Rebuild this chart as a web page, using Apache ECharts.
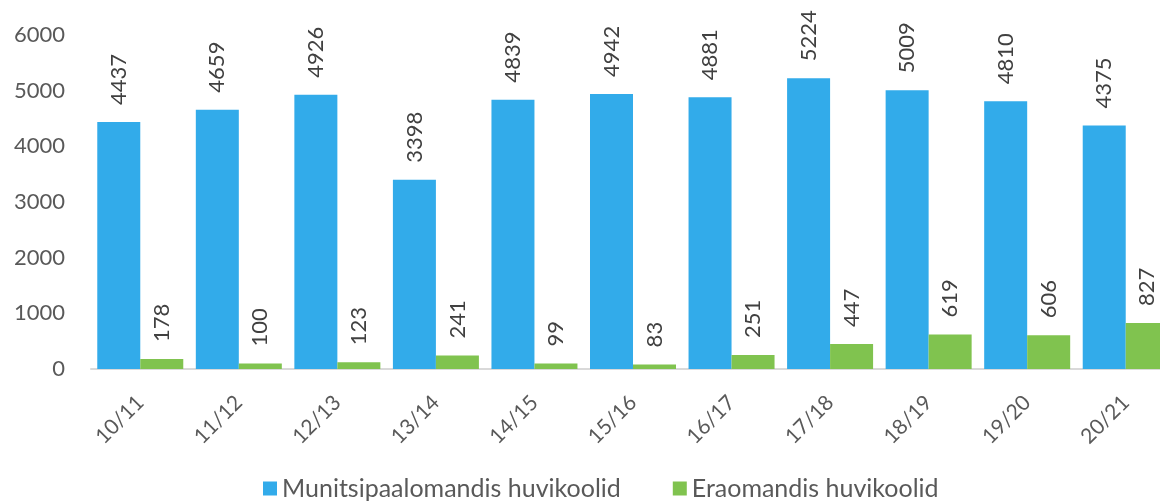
<!DOCTYPE html>
<html>
<head>
<meta charset="utf-8">
<script src="https://cdn.jsdelivr.net/npm/echarts@6/dist/echarts.min.js"></script>
<style>
  html, body { margin: 0; padding: 0; background: #fff; overflow: hidden; }
  /* the plot runs a little past the right edge of the window */
  #chart { width: 1175px; height: 504px; }
</style>
</head>
<body>
<div id="chart"></div>
<script>
// School years
const categories = ['10/11', '11/12', '12/13', '13/14', '14/15', '15/16', '16/17', '17/18', '18/19', '19/20', '20/21'];
// Municipal hobby schools
const municipal = [4437, 4659, 4926, 3398, 4839, 4942, 4881, 5224, 5009, 4810, 4375];
// Private hobby schools
const privateSchools = [178, 100, 123, 241, 99, 83, 251, 447, 619, 606, 827];
// Y axis ticks
const yTicks = [0, 1000, 2000, 3000, 4000, 5000, 6000];

const FONT = 'Lato, "Open Sans", sans-serif';
const TEXT = '#595959';

const chart = echarts.init(document.getElementById('chart'));

const valueLabel = {
  show: true,
  position: 'top',
  rotate: 90,
  align: 'left',
  verticalAlign: 'middle',
  distance: 17,
  color: '#404040',
  fontFamily: FONT,
  fontSize: 22
};

chart.setOption({
  animation: false,
  grid: { left: 91, right: 0, top: 35, height: 334, containLabel: false },
  legend: {
    bottom: -2,
    left: 258,
    itemWidth: 14,
    itemHeight: 14,
    itemGap: 52,
    icon: 'rect',
    textStyle: { color: TEXT, fontFamily: FONT, fontSize: 25 },
    data: ['Munitsipaalomandis huvikoolid', 'Eraomandis huvikoolid']
  },
  xAxis: {
    type: 'category',
    data: categories,
    axisLine: { show: true, lineStyle: { color: '#d9d9d9', width: 2 } },
    axisTick: { show: false },
    axisLabel: {
      rotate: 45,
      color: TEXT,
      fontFamily: FONT,
      fontSize: 21,
      margin: 30
    }
  },
  yAxis: {
    type: 'value',
    min: yTicks[0],
    max: yTicks[yTicks.length - 1],
    interval: 1000,
    splitLine: { show: false },
    axisLine: { show: false },
    axisTick: { show: false },
    axisLabel: {
      color: TEXT,
      fontFamily: FONT,
      fontSize: 22,
      margin: 26,
      formatter: (v) => String(v)
    }
  },
  series: [
    {
      name: 'Munitsipaalomandis huvikoolid',
      type: 'bar',
      data: municipal,
      barWidth: 43,
      barGap: '0%',
      itemStyle: { color: '#32abea' },
      label: valueLabel
    },
    {
      name: 'Eraomandis huvikoolid',
      type: 'bar',
      data: privateSchools,
      barWidth: 43,
      barGap: '0%',
      itemStyle: { color: '#80c34f' },
      label: valueLabel
    }
  ]
});
</script>
</body>
</html>
